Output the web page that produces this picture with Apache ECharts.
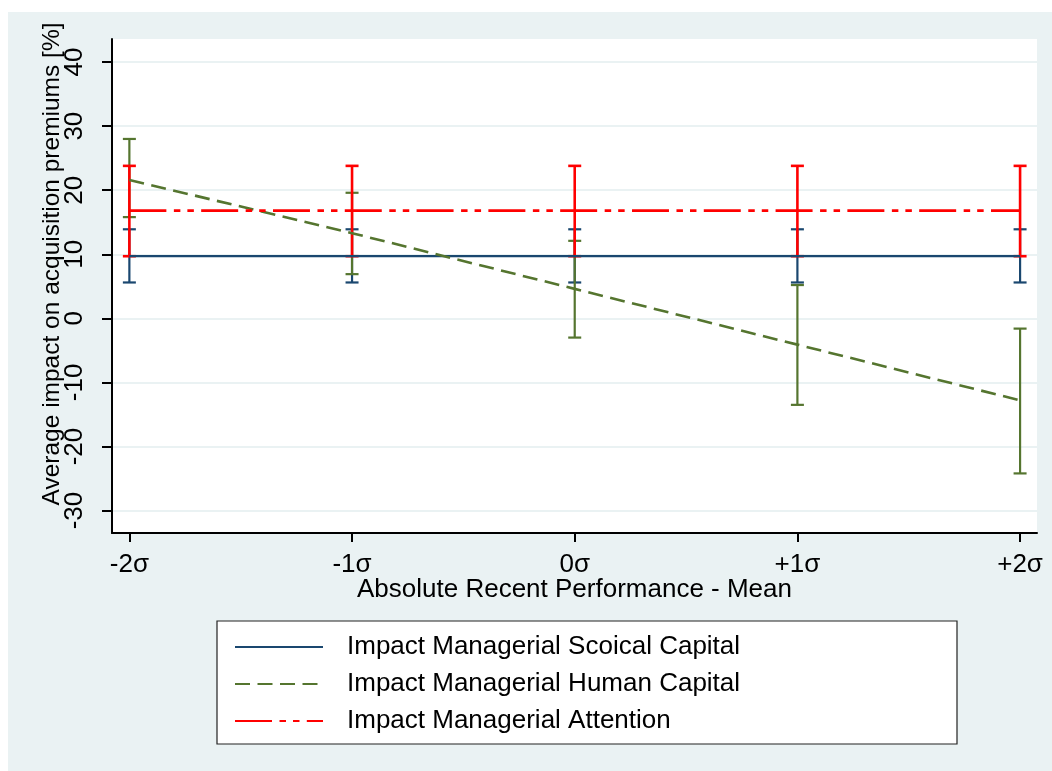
<!DOCTYPE html>
<html>
<head>
<meta charset="utf-8">
<script src="https://cdn.jsdelivr.net/npm/echarts@6/dist/echarts.min.js"></script>
<style>
html,body{margin:0;padding:0;background:#fff;}
#chart{width:1052px;height:771px;}
</style>
</head>
<body>
<div id="chart"></div>
<script>
// ---- data ----
const xValues = [-2, -1, 0, 1, 2];
const xTickLabels = ['-2σ', '-1σ', '0σ', '+1σ', '+2σ'];
const yTicks = [-30, -20, -10, 0, 10, 20, 30, 40];

const seriesNames = [
  'Impact Managerial Scoical Capital',
  'Impact Managerial Human Capital',
  'Impact Managerial Attention'
];

const socialMean = [9.7, 9.7, 9.7, 9.7, 9.7];
const socialLow  = [5.6, 5.6, 5.6, 5.6, 5.6];
const socialHigh = [13.9, 13.9, 13.9, 13.9, 13.9];

const humanMean = [21.6, 13.3, 4.6, -4.1, -12.8];
const humanLow  = [15.8, 6.9, -3.0, -13.5, -24.2];
const humanHigh = [28.0, 19.6, 12.1, 5.2, -1.6];

const attnMean = [16.8, 16.8, 16.8, 16.8, 16.8];
const attnLow  = [9.7, 9.7, 9.7, 9.7, 9.7];
const attnHigh = [23.8, 23.8, 23.8, 23.8, 23.8];

// ---- styles ----
const colors = ['#1A476F', '#55752F', '#FF0000'];
const FONT = 'Liberation Sans, Arial, Helvetica, sans-serif';

function pairs(ys) { return xValues.map((x, i) => [x, ys[i]]); }
function ciData(lo, hi) { return xValues.map((x, i) => [x, lo[i], hi[i]]); }

function ciSeries(name, lo, hi, color, width) {
  return {
    name: name,
    type: 'custom',
    data: ciData(lo, hi),
    encode: { x: 0, y: [1, 2] },
    renderItem: function (params, api) {
      const x = api.value(0);
      const p1 = api.coord([x, api.value(1)]);
      const p2 = api.coord([x, api.value(2)]);
      const hw = 6.5;
      const st = { stroke: color, lineWidth: width, fill: null };
      return {
        type: 'group',
        children: [
          { type: 'line', shape: { x1: p1[0], y1: p1[1], x2: p2[0], y2: p2[1] }, style: st },
          { type: 'line', shape: { x1: p1[0] - hw, y1: p1[1], x2: p1[0] + hw, y2: p1[1] }, style: st },
          { type: 'line', shape: { x1: p2[0] - hw, y1: p2[1], x2: p2[0] + hw, y2: p2[1] }, style: st }
        ]
      };
    },
    silent: true
  };
}

function lineSeries(name, ys, color, width, dash) {
  return {
    name: name,
    type: 'line',
    data: pairs(ys),
    symbol: 'none',
    lineStyle: { color: color, width: width, type: dash },
    itemStyle: { color: color },
    emphasis: { disabled: true },
    animation: false
  };
}

const chart = echarts.init(document.getElementById('chart'), null, { renderer: 'canvas' });

const option = {
  animation: false,
  backgroundColor: '#ffffff',
  textStyle: { fontFamily: FONT },
  graphic: [
    { type: 'rect', z: -100, silent: true,
      shape: { x: 8, y: 12, width: 1044, height: 759 },
      style: { fill: '#EAF2F3' } }
  ],
  grid: {
    left: 112, top: 39, right: 15, bottom: 238,
    show: true, backgroundColor: '#ffffff', borderWidth: 0
  },
  xAxis: {
    type: 'value',
    min: -2.078, max: 2.076,
    name: 'Absolute Recent Performance - Mean',
    nameLocation: 'middle',
    nameGap: 44,
    nameMoveOverlap: false,
    nameTextStyle: { fontSize: 26, color: '#000', fontFamily: FONT },
    axisLine: { show: true, onZero: false, lineStyle: { color: '#000', width: 2 } },
    axisTick: { show: true, length: 9, lineStyle: { color: '#000', width: 2 }, customValues: xValues },
    axisLabel: {
      customValues: xValues,
      fontSize: 26, color: '#000', margin: 19, fontFamily: FONT,
      formatter: function (v) { const i = xValues.indexOf(v); return i >= 0 ? xTickLabels[i] : ''; }
    },
    splitLine: { show: false }
  },
  yAxis: {
    type: 'value',
    min: -33.5, max: 43.6,
    name: 'Average impact on acquisition premiums [%]',
    nameLocation: 'middle',
    nameRotate: 90,
    nameGap: 47,
    nameMoveOverlap: false,
    nameTextStyle: { fontSize: 24.5, color: '#000', fontFamily: FONT, padding: [0, 0, 0, 44] },
    axisLine: { show: true, onZero: false, lineStyle: { color: '#000', width: 2 } },
    axisTick: { show: true, length: 10, lineStyle: { color: '#000', width: 2 }, customValues: yTicks },
    axisLabel: {
      customValues: yTicks,
      rotate: 90, fontSize: 26, color: '#000', margin: 24, fontFamily: FONT
    },
    splitLine: { show: true, lineStyle: { color: '#EAF2F3', width: 2 } }
  },
  legend: {
    data: seriesNames,
    orient: 'vertical',
    left: 217, top: 621,
    backgroundColor: '#ffffff',
    borderColor: '#222',
    borderWidth: 1.2,
    borderRadius: 0,
    padding: [11, 10, 8, 17],
    itemGap: 7,
    itemWidth: 88,
    itemHeight: 14,
    selectedMode: false,
    itemStyle: { opacity: 0 },
    textStyle: { fontSize: 26, color: '#000', fontFamily: FONT, lineHeight: 30, width: 600, padding: [0, 0, 0, 19] }
  },
  series: [
    lineSeries(seriesNames[0], socialMean, colors[0], 2.2, 'solid'),
    ciSeries('ci_social', socialLow, socialHigh, colors[0], 2.2),
    lineSeries(seriesNames[1], humanMean, colors[1], 2.6, [15, 7.5]),
    ciSeries('ci_human', humanLow, humanHigh, colors[1], 2.2),
    lineSeries(seriesNames[2], attnMean, colors[2], 2.8, [37, 7.5, 6.5, 7, 6.5, 7.3]),
    ciSeries('ci_attn', attnLow, attnHigh, colors[2], 2.6)
  ]
};
chart.setOption(option);
</script>
</body>
</html>
